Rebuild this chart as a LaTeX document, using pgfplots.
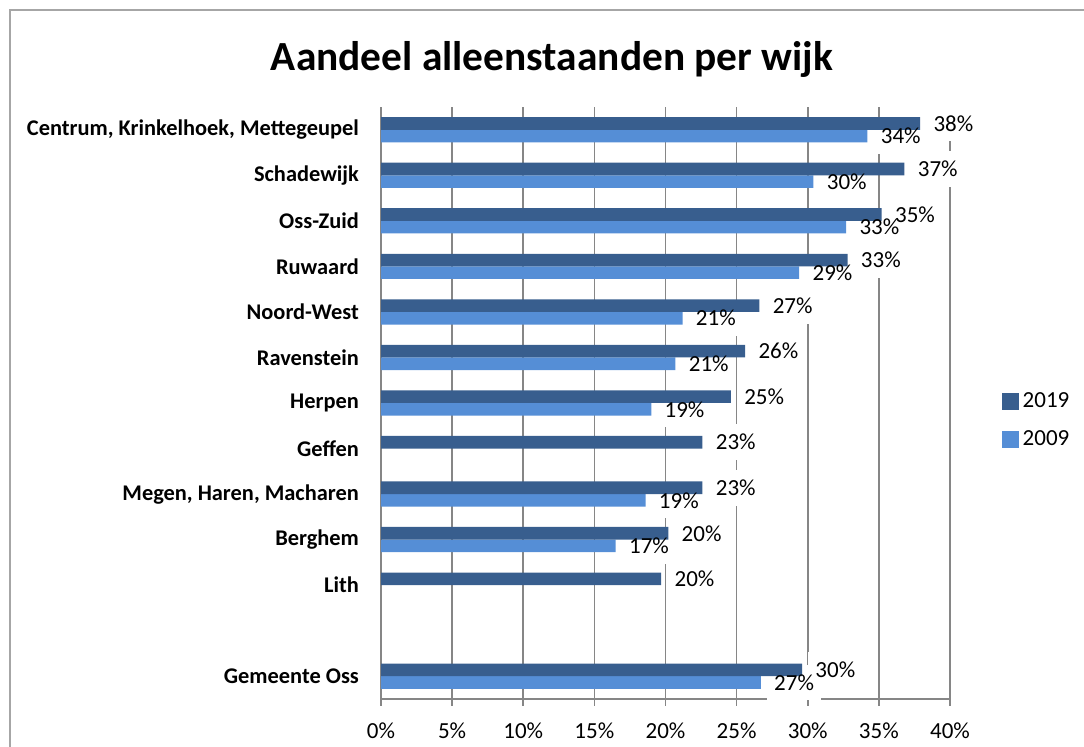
\documentclass[border=0pt]{standalone}
\usepackage{pgfplots}
\pgfplotsset{compat=1.18}
\usepackage{pgfplotstable}
\usepackage{fontspec}
\setmainfont{Carlito}

\definecolor{jaar19}{HTML}{385E8E}
\definecolor{jaar09}{HTML}{558ED6}
\definecolor{raster}{HTML}{868686}

% y: 12 = bovenste wijk, 0 = Gemeente Oss (1 blijft leeg)
\pgfplotstableread{
c  v     l
12 37.9  38
11 36.8  37
10 35.2  35
9  32.8  33
8  26.6  27
7  25.6  26
6  24.6  25
5  22.6  23
4  22.6  23
3  20.2  20
2  19.7  20
0  29.6  30
}\tabnegentien

\pgfplotstableread{
c  v     l
12 34.2  34
11 30.4  30
10 32.7  33
9  29.4  29
8  21.2  21
7  20.7  21
6  19.0  19
4  18.6  19
3  16.5  17
0  26.7  27
}\tabnegen

\pgfplotsset{
  basis/.style={
    at={(190.5pt,24pt)}, anchor=south west,
    scale only axis,
    width=284.5pt, height=296pt,
    xbar, bar width=6.3pt,
    xmin=0, xmax=40,
    ymin=-0.5, ymax=12.5,
    point meta=explicit symbolic,
    nodes near coords={\pgfplotspointmeta\%},
    every node near coord/.append style={font=\fontsize{11.5}{13}\selectfont,
        anchor=west, inner xsep=3.5pt, inner ysep=1pt, xshift=3pt},
  },
}

\begin{document}
\begin{tikzpicture}
% 1 px = 0.5pt, oorsprong linksonder
\useasboundingbox (0,0) rectangle (542pt,373.5pt);
\draw[color=black!35, line width=0.8pt] (5pt,0) -- (5pt,368.5pt) -- (542pt,368.5pt);
\node[font=\bfseries\fontsize{20.7}{23}\selectfont] at (276pt,344pt) {Aandeel alleenstaanden per wijk};

% as, raster en witte vlakken achter de labels
\begin{axis}[
    basis,
    axis x line*=bottom, axis y line*=left,
    axis line style={raster, line width=0.8pt},
    xmajorgrids, major grid style={raster, line width=0.8pt},
    xtick={0,5,...,40},
    xticklabel={\pgfmathprintnumber{\tick}\%},
    /pgf/number format/assume math mode=true,
    tick style={raster, line width=0.8pt},
    tick align=outside,
    major tick length=3.5pt,
    xticklabel style={font=\fontsize{11.5}{13}\selectfont, yshift=-5pt},
    ytick={12,11,10,9,8,7,6,5,4,3,2,0},
    yticklabels={{Centrum, Krinkelhoek, Mettegeupel}, Schadewijk, Oss-Zuid,
        Ruwaard, Noord-West, Ravenstein, Herpen, Geffen,
        {Megen, Haren, Macharen}, Berghem, Lith, Gemeente Oss},
    yticklabel style={font=\bfseries\fontsize{11.2}{13}\selectfont, xshift=-4pt},
    ytick style={draw=none},
    minor ytick={-0.5,0.5,...,12.5},
    minor tick length=4.5pt,
    every minor tick/.style={raster, line width=0.8pt},
    every node near coord/.append style={fill=white, text=white, inner ysep=5pt},
]
\addplot[draw=none, fill=none, bar shift=-3.15pt] table[x=v, y=c, meta=l] {\tabnegen};
\addplot[draw=none, fill=none, bar shift=3.15pt] table[x=v, y=c, meta=l] {\tabnegentien};
\end{axis}

% balken en labels
\begin{axis}[
    basis,
    hide axis,
    legend style={at={(1.08,0.532)}, anchor=north west, draw=none,
        font=\fontsize{11.5}{13}\selectfont, row sep=6pt,
        legend cell align=left},
    legend image code/.code={\fill[#1] (0pt,-4.2pt) rectangle (8.4pt,4.2pt);},
    reverse legend,
]
\addplot[fill=jaar09, draw=none, bar shift=-3.15pt]
    table[x=v, y=c, meta=l] {\tabnegen};
\addplot[fill=jaar19, draw=none, bar shift=3.15pt]
    table[x=v, y=c, meta=l] {\tabnegentien};
\legend{2009, 2019}
\end{axis}
\end{tikzpicture}
\end{document}
